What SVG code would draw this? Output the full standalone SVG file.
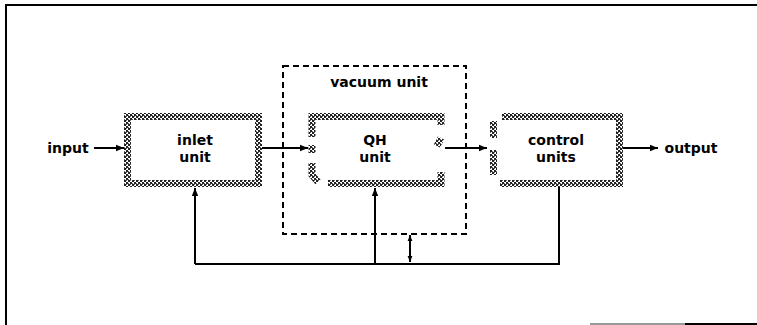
<svg xmlns="http://www.w3.org/2000/svg" width="757" height="325" viewBox="0 0 757 325">
<defs>
<pattern id="hatch" width="4" height="4" patternUnits="userSpaceOnUse">
<rect width="4" height="4" fill="#fff"/>
<rect width="2" height="2" fill="#222"/>
<rect x="2" y="2" width="2" height="2" fill="#222"/>
<rect x="2" y="0" width="1" height="1" fill="#666"/>
<rect x="0" y="3" width="1" height="1" fill="#666"/>
</pattern>
<marker id="ah" viewBox="0 0 10 10" refX="10" refY="5" markerWidth="8" markerHeight="8" markerUnits="userSpaceOnUse" orient="auto">
<path d="M0,1 L10,5 L0,9 Z" fill="#000"/>
</marker>
<marker id="ahsm" viewBox="0 0 10 10" refX="10" refY="5" markerWidth="6" markerHeight="6" markerUnits="userSpaceOnUse" orient="auto-start-reverse">
<path d="M0,1 L10,5 L0,9 Z" fill="#000"/>
</marker>
</defs>
<style>
.frame{fill:none;stroke:#000;stroke-width:2}
.hb{fill:none;stroke:url(#hatch);stroke-width:7}
.ln{fill:none;stroke:#000;stroke-width:2}
.dash{fill:none;stroke:#000;stroke-width:2;stroke-dasharray:6,4}
text{font-family:"DejaVu Sans","Liberation Sans",sans-serif;font-size:14px;font-weight:bold;fill:#000;text-anchor:middle}
</style>
<rect width="757" height="325" fill="#fff"/>
<g id="frame">
<path class="frame" d="M6,325 L6,5 L757,5"/>
<path d="M590,324 L757,324" stroke="#999" stroke-width="2"/>
<path d="M685,324 L757,324" stroke="#000" stroke-width="2"/>
</g>
<g id="vacuum-unit">
<rect class="dash" x="283" y="66" width="183" height="168"/>
<text x="379" y="87">vacuum unit</text>
</g>
<g id="inlet-unit">
<rect class="hb" x="127.5" y="116.5" width="131" height="67"/>
<text x="195" y="145">inlet</text>
<text x="195" y="162">unit</text>
</g>
<g id="qh-unit">
<path class="hb" d="M312,137 L312,116.5 L441,116.5 L441,125"/>
<path class="hb" d="M312,145 L312,153"/>
<path class="hb" d="M312,163 L312,175 L318,182"/>
<path class="hb" d="M328,183.5 L441,183.5 L441,172"/>
<path class="hb" d="M441,138 L437,146"/>
<text x="375" y="145">QH</text>
<text x="375" y="162">unit</text>
</g>
<g id="control-units">
<path class="hb" d="M502,116.5 L619.5,116.5 L619.5,183.5 L500,183.5"/>
<path class="hb" d="M493.5,121 L493.5,138"/>
<path class="hb" d="M493.5,150 L493.5,175"/>
<text x="556" y="145">control</text>
<text x="556" y="162">units</text>
</g>
<g id="input">
<text x="68" y="153">input</text>
</g>
<g id="output">
<text x="691" y="153">output</text>
</g>
<g id="connectors">
<path class="ln" d="M94,148 L124,148" marker-end="url(#ah)"/>
<path class="ln" d="M262,148 L308,148" marker-end="url(#ah)"/>
<path class="ln" d="M445,148 L487,148" marker-end="url(#ah)"/>
<path class="ln" d="M623,148 L658,148" marker-end="url(#ah)"/>
<path class="ln" d="M195,264 L195,188" marker-end="url(#ah)"/>
<path class="ln" d="M375,264 L375,188" marker-end="url(#ah)"/>
<path class="ln" d="M410,262 L410,235" marker-start="url(#ahsm)" marker-end="url(#ahsm)"/>
<path class="ln" d="M559,187 L559,264 L195,264"/>
</g>
</svg>
